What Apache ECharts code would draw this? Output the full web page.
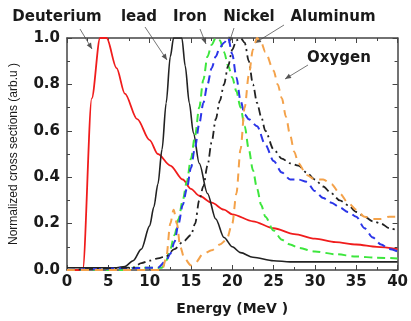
<!DOCTYPE html>
<html>
<head>
<meta charset="utf-8">
<script src="https://cdn.jsdelivr.net/npm/echarts@6/dist/echarts.min.js"></script>
<style>
html, body { margin: 0; padding: 0; background: #fff; }
#chart { width: 411px; height: 321px; }
</style>
</head>
<body>
<div id="chart"></div>
<script>
// energy (MeV), normalized cross section
var deuterium = [[0,0],[1.9,0],[3,0.74],[4,1],[4.8,1],[6,0.87],[7,0.76],[8.5,0.65],[10,0.56],[11,0.5],[12.5,0.45],[14,0.39],[15,0.35],[16,0.32],[17.5,0.29],[19,0.26],[20,0.24],[22.5,0.21],[25,0.18],[27.5,0.155],[30,0.135],[32.5,0.12],[35,0.11],[37.5,0.1],[40,0.09]];
var lead = [[0,0.01],[6,0.01],[7,0.015],[8,0.04],[9,0.09],[10,0.19],[10.5,0.27],[11,0.37],[11.5,0.52],[12,0.72],[12.5,0.92],[12.9,1],[13.9,1],[14.3,0.88],[14.8,0.72],[15.3,0.59],[16,0.46],[17,0.33],[18,0.22],[19,0.14],[20,0.1],[21,0.075],[22.5,0.055],[25,0.04],[27,0.035],[40,0.035]];
var iron = [[0,0],[7.5,0],[8,0.01],[11.5,0.01],[12,0.04],[12.5,0.09],[13,0.15],[13.5,0.22],[14,0.3],[14.5,0.38],[15,0.48],[15.5,0.58],[16,0.7],[16.5,0.82],[17,0.92],[17.5,0.97],[18,1],[18.5,0.99],[19,0.94],[19.5,0.88],[20,0.83],[20.5,0.77],[21,0.7],[21.5,0.62],[22,0.52],[22.5,0.43],[23,0.35],[23.5,0.28],[24,0.23],[25,0.17],[26,0.13],[27,0.11],[28,0.095],[30,0.08],[32.5,0.068],[35,0.058],[37.5,0.053],[40,0.05]];
var nickel = [[0,0],[11,0.01],[12,0.04],[12.5,0.07],[13,0.12],[13.5,0.2],[14,0.28],[14.5,0.35],[15,0.44],[15.5,0.53],[16,0.63],[16.5,0.72],[17,0.8],[17.5,0.87],[18,0.92],[18.5,0.96],[19,0.98],[19.5,1],[20,0.93],[20.5,0.83],[21,0.73],[21.5,0.67],[22,0.65],[23,0.62],[24,0.54],[25,0.47],[26,0.42],[27,0.39],[28,0.39],[29,0.38],[30,0.34],[31,0.31],[32,0.29],[33,0.27],[34,0.25],[35,0.23],[36,0.18],[37,0.14],[38,0.11],[39,0.09],[40,0.08]];
var aluminum = [[0,0],[8,0.01],[9,0.03],[10,0.04],[11,0.05],[12,0.06],[13,0.09],[14,0.12],[15,0.15],[15.5,0.2],[16,0.3],[16.5,0.36],[17,0.45],[17.5,0.55],[18,0.65],[18.5,0.73],[19,0.8],[19.5,0.88],[20,0.95],[20.5,0.99],[21,1],[21.5,0.98],[22,0.9],[22.5,0.8],[23,0.72],[23.5,0.66],[24,0.6],[25,0.52],[26,0.48],[27,0.46],[28,0.45],[29,0.42],[30,0.39],[31,0.36],[32,0.33],[33,0.3],[34,0.28],[35,0.25],[36,0.23],[37,0.21],[38,0.2],[39,0.18],[40,0.17]];
var oxygen = [[0,0],[11.5,0],[12,0.05],[12.5,0.2],[12.9,0.26],[13.3,0.2],[13.7,0.1],[14.2,0.05],[15,0.02],[15.5,0.03],[16.5,0.07],[17.5,0.085],[18.5,0.11],[19.3,0.13],[20,0.2],[20.5,0.33],[21,0.52],[21.5,0.7],[22,0.84],[22.5,0.95],[23,1],[23.5,0.98],[24,0.94],[25,0.86],[25.5,0.8],[26,0.74],[26.5,0.66],[27,0.58],[27.5,0.51],[28,0.46],[29,0.41],[30,0.39],[31,0.39],[32,0.37],[33,0.33],[34,0.29],[35,0.26],[36,0.23],[37,0.22],[38,0.22],[39,0.23],[40,0.23]];

var xTicks = [0, 5, 10, 15, 20, 25, 30, 35, 40];
var yTicks = ['0.0', '0.2', '0.4', '0.6', '0.8', '1.0'];

// annotation labels and arrows (pixels)
var notes = [
    {text: 'Deuterium', x: 57, y: 17, from: [80, 29], to: [92, 49]},
    {text: 'lead', x: 139, y: 17, from: [145, 27], to: [167, 60]},
    {text: 'Iron', x: 190, y: 17, from: [200, 29], to: [206, 44]},
    {text: 'Nickel', x: 249, y: 17, from: [234, 28], to: [229, 43]},
    {text: 'Aluminum', x: 333, y: 17, from: [284, 25], to: [255, 43]},
    {text: 'Oxygen', x: 339, y: 58, from: [308, 65], to: [285, 79]}
];

var font = 'DejaVu Sans, Arial, sans-serif';
var boxColor = '#444';

function arrowHead(from, to) {
    var dx = to[0] - from[0], dy = to[1] - from[1];
    var len = Math.sqrt(dx * dx + dy * dy);
    var ux = dx / len, uy = dy / len;
    var s = 6, w = 2.5;
    var bx = to[0] - ux * s, by = to[1] - uy * s;
    return [[to[0], to[1]], [bx - uy * w, by + ux * w], [bx + uy * w, by - ux * w]];
}

var graphics = [];
notes.forEach(function (n) {
    graphics.push({
        type: 'text', x: n.x, y: n.y,
        style: {text: n.text, x: 0, y: 0, align: 'center', verticalAlign: 'middle',
            font: 'bold 15px ' + font, fill: '#1a1a1a'}
    });
    graphics.push({
        type: 'line',
        shape: {x1: n.from[0], y1: n.from[1], x2: n.to[0], y2: n.to[1]},
        style: {stroke: '#777', lineWidth: 1}
    });
    graphics.push({
        type: 'polygon',
        shape: {points: arrowHead(n.from, n.to)},
        style: {fill: '#555'}
    });
});

function makeSeries(name, data, color, type, width) {
    return {
        name: name, type: 'line', data: data,
        showSymbol: false, symbol: 'none',
        smooth: 0.3, smoothMonotone: 'x',
        lineStyle: {color: color, width: width || 1.8, type: type},
        z: 3
    };
}

var tickBase = {show: true, inside: true, length: 5, lineStyle: {color: boxColor, width: 1}};
var minorBase = {show: true, splitNumber: 2, length: 3, lineStyle: {color: boxColor, width: 1}};
var lineBase = {show: true, onZero: false, lineStyle: {color: boxColor, width: 1.5}};

var option = {
    animation: false,
    backgroundColor: '#fff',
    grid: {left: 65, right: 11, top: 38, bottom: 49},
    xAxis: [
        {
            type: 'value', min: 0, max: 40, interval: 5, position: 'bottom',
            name: 'Energy (MeV )', nameLocation: 'middle', nameGap: 32,
            nameTextStyle: {fontFamily: font, fontWeight: 'bold', fontSize: 14, color: '#1a1a1a'},
            axisLine: lineBase, axisTick: tickBase, minorTick: minorBase,
            splitLine: {show: false}, minorSplitLine: {show: false},
            axisLabel: {fontFamily: font, fontWeight: 'bold', fontSize: 15, color: '#1a1a1a', margin: 5,
                formatter: function (v) { return xTicks.indexOf(v) >= 0 ? String(v) : ''; }}
        },
        {
            type: 'value', min: 0, max: 40, interval: 5, position: 'top',
            axisLine: lineBase, axisTick: tickBase, minorTick: minorBase,
            splitLine: {show: false}, axisLabel: {show: false}
        }
    ],
    yAxis: [
        {
            type: 'value', min: 0, max: 1, interval: 0.2, position: 'left',
            name: 'Normalized cross sections (arb.u )', nameLocation: 'middle', nameGap: 47,
            nameTextStyle: {fontFamily: 'Liberation Sans, Arial, sans-serif', fontSize: 12, color: '#1a1a1a'},
            axisLine: lineBase, axisTick: tickBase, minorTick: minorBase,
            splitLine: {show: false}, minorSplitLine: {show: false},
            axisLabel: {fontFamily: font, fontWeight: 'bold', fontSize: 15, color: '#1a1a1a', margin: 7,
                formatter: function (v) { return yTicks[Math.round(v / 0.2)]; }}
        },
        {
            type: 'value', min: 0, max: 1, interval: 0.2, position: 'right',
            axisLine: lineBase, axisTick: tickBase, minorTick: minorBase,
            splitLine: {show: false}, axisLabel: {show: false}
        }
    ],
    series: [
        makeSeries('Deuterium', deuterium, '#f01c1c', 'solid', 1.8),
        makeSeries('lead', lead, '#222222', 'solid', 1.6),
        makeSeries('Iron', iron, '#3de63d', [8, 5], 2),
        makeSeries('Nickel', nickel, '#2b35e8', [8, 5], 2),
        makeSeries('Aluminum', aluminum, '#222222', [8, 4, 2, 4], 1.8),
        makeSeries('Oxygen', oxygen, '#f4a24a', [8, 6], 2)
    ],
    graphic: graphics
};

var myChart = echarts.init(document.getElementById('chart'));
myChart.setOption(option);
</script>
</body>
</html>
